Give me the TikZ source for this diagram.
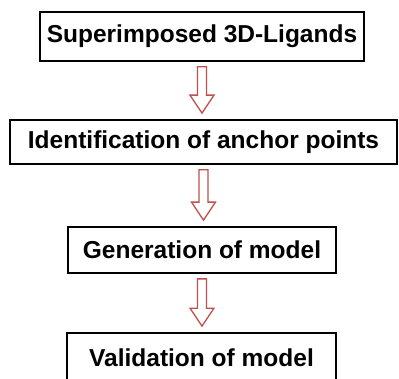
\documentclass[tikz,border=0pt]{standalone}
\usepackage{fontspec}
\setmainfont{Liberation Sans}
\usetikzlibrary{calc}
\definecolor{arrowred}{RGB}{192,80,77}

\begin{document}
\begin{tikzpicture}[x=1pt,y=1pt,
    stepbox/.style={draw=black,line width=1.7pt,fill=white,inner sep=0pt,
      font=\fontsize{24.5}{28}\selectfont\bfseries},
    hollowarrow/.style={draw=arrowred,line width=1.3pt,fill=white,line join=miter}]
    \useasboundingbox (0,0) rectangle (399,378);
    % Draw the four boxes of the workflow
    \node[stepbox,minimum width=324,minimum height=49] (b1) at (202,341.5) {Superimposed 3D-Ligands};
    \node[stepbox,minimum width=387,minimum height=44] (b2) at (203.5,236) {Identification of anchor points};
    \node[stepbox,minimum width=268,minimum height=46] (b3) at (202,128) {Generation of model};
    \node[stepbox,minimum width=269,minimum height=52,text depth=3pt] (b4) at (201.5,19) {Validation of model};
    % Draw the hollow arrows between the boxes
    \foreach \a/\b in {b1/b2, b2/b3, b3/b4}{
      \draw[hollowarrow] ($(\a.south)+(-4.5,-5)$) -- ($(\a.south |- \b.north)+(-4.5,24)$)
        -- ++(-7.5,0) -- ($(\a.south |- \b.north)+(0,6)$) -- ++(12,18) -- ++(-7.5,0)
        -- ($(\a.south)+(4.5,-5)$) -- cycle;
    }
  \end{tikzpicture}
\end{document}
